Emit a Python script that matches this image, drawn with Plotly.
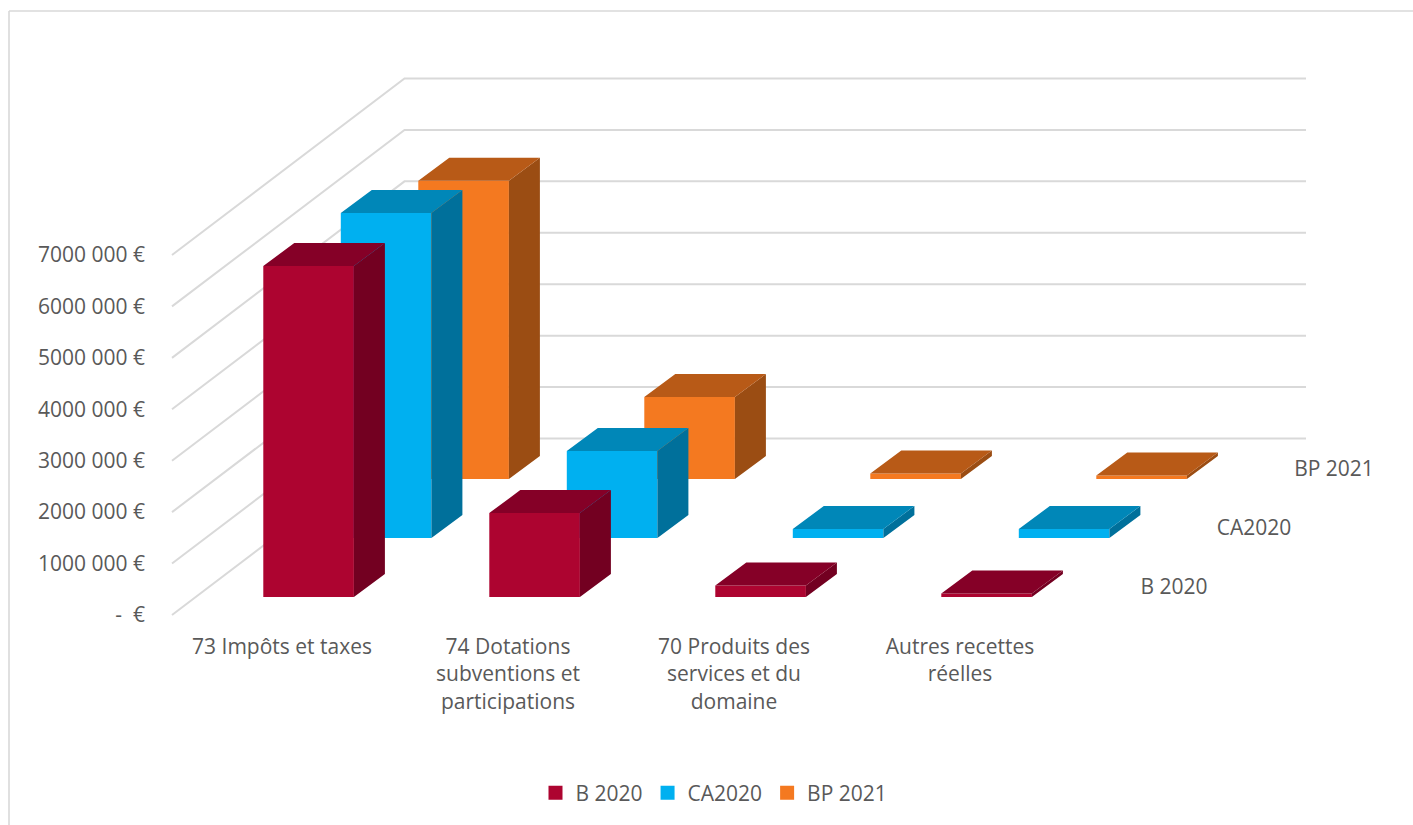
import plotly.graph_objects as go

# --- data -------------------------------------------------------------
categories = ["73 Impôts et taxes",
              "74 Dotations<br>subventions et<br>participations",
              "70 Produits des<br>services et du<br>domaine",
              "Autres recettes<br>réelles"]
series_names = ["B 2020", "CA2020", "BP 2021"]
b_2020 = [6436000, 1633000, 224000, 68000]
ca_2020 = [6320000, 1690000, 175000, 175000]
bp_2021 = [5800000, 1594000, 107000, 68000]
value_ticks = [0, 1000000, 2000000, 3000000, 4000000, 5000000, 6000000, 7000000]
value_tick_labels = ["-\u00a0\u00a0€", "1000 000 €", "2000 000 €", "3000 000 €",
                     "4000 000 €", "5000 000 €", "6000 000 €", "7000 000 €"]

# --- frame & projection ----------------------------------------------
W, H = 1413, 825
L, R, T, B = 150, 1400, 0, 625      # plot rectangle in the page
CAT_PX = 226.0                       # one category along the x axis
M_PX = 51.43                         # one million along the y axis
X0_PX = 282.0                        # x=0 (centre of first category label)
Y0_PX = 615.0                        # y=0 at the front-left of the walls
FS = 21


def ux(px):  # horizontal pixels -> x units
    return px / CAT_PX


def uy(px):  # vertical pixels -> value units
    return px / M_PX * 1e6


x_range = [ux(L - X0_PX), ux(R - X0_PX)]
y_range = [uy(Y0_PX - B), uy(Y0_PX - T)]

BAR_W = ux(90.6)
BAR_X0 = ux(263.3 - X0_PX)
BAR_Y0 = uy(Y0_PX - 597)
SER_DX, SER_DY = ux(77.5), uy(59)
DEP_DX, DEP_DY = ux(31), uy(23)
WALL_DX, WALL_DY = ux(232.5), uy(176.5)
WALL_X0, WALL_X1 = ux(172 - X0_PX), ux(1306 - X0_PX)

colors = {
    "B 2020": ("#AD0430", "#730021", "#850027"),
    "CA2020": ("#00B0F0", "#00709B", "#0087B8"),
    "BP 2021": ("#F47920", "#9B4D13", "#B85A17"),
}
values = {"B 2020": b_2020, "CA2020": ca_2020, "BP 2021": bp_2021}
TEXT = "#595959"
FONT = "Open Sans"

fig = go.Figure()

# --- legend entries ---------------------------------------------------
for name in series_names:
    fig.add_trace(go.Scatter(x=[None], y=[None], name=name, mode="markers",
                             marker=dict(symbol="square", size=14, color=colors[name][0])))

# --- walls ------------------------------------------------------------
gx, gy = [], []
for v in value_ticks:
    gx += [WALL_X0, WALL_X0 + WALL_DX, WALL_X1, None]
    gy += [v, v + WALL_DY, v + WALL_DY, None]
fig.add_trace(go.Scatter(x=gx, y=gy, mode="lines", showlegend=False, hoverinfo="skip",
                         line=dict(color="#D9D9D9", width=2)))


# --- bars, back row first ---------------------------------------------
def add_poly(xs, ys, color):
    fig.add_trace(go.Scatter(x=xs, y=ys, mode="lines", fill="toself", fillcolor=color,
                             line=dict(width=0, color=color), showlegend=False, hoverinfo="skip"))


for s in (2, 1, 0):
    name = series_names[s]
    front_c, side_c, top_c = colors[name]
    fx, fy, sx, sy, tx, ty = [], [], [], [], [], []
    for i, v in enumerate(values[name]):
        x0 = BAR_X0 + i + s * SER_DX
        x1 = x0 + BAR_W
        y0 = BAR_Y0 + s * SER_DY
        y1 = y0 + v
        fx += [x0, x1, x1, x0, x0, None]
        fy += [y0, y0, y1, y1, y0, None]
        sx += [x1, x1 + DEP_DX, x1 + DEP_DX, x1, x1, None]
        sy += [y0, y0 + DEP_DY, y1 + DEP_DY, y1, y0, None]
        tx += [x0, x1, x1 + DEP_DX, x0 + DEP_DX, x0, None]
        ty += [y1, y1, y1 + DEP_DY, y1 + DEP_DY, y1, None]
    add_poly(fx, fy, front_c)
    add_poly(sx, sy, side_c)
    add_poly(tx, ty, top_c)

# --- depth axis labels ------------------------------------------------
fig.add_trace(go.Scatter(
    x=[ux(1174 - X0_PX) + s * ux(80) for s in range(3)],
    y=[uy(Y0_PX - 589) + s * SER_DY for s in range(3)],
    text=series_names, mode="text", textposition="middle center",
    textfont=dict(family=FONT, size=FS, color=TEXT),
    showlegend=False, hoverinfo="skip"))


def px_x(p):
    return (p - L) / (R - L)


def px_y(p):
    return 1 - (p - T) / (B - T)


border = dict(type="line", xref="paper", yref="paper", line=dict(color="#D9D9D9", width=1.6))

fig.update_layout(
    width=W, height=H, autosize=False,
    margin=dict(l=L, r=W - R, t=T, b=H - B),
    paper_bgcolor="white", plot_bgcolor="white",
    font=dict(family=FONT, size=FS, color=TEXT),
    xaxis=dict(range=x_range, tickmode="array", tickvals=list(range(len(categories))),
               ticktext=categories, showgrid=False, zeroline=False, showline=False,
               ticks="", tickangle=0, tickfont=dict(family=FONT, size=FS, color=TEXT),
               ticklabelstandoff=7, fixedrange=True),
    yaxis=dict(range=y_range, tickmode="array", tickvals=value_ticks,
               ticktext=value_tick_labels, showgrid=False, zeroline=False, showline=False,
               ticks="", tickfont=dict(family=FONT, size=FS, color=TEXT),
               ticklabelstandoff=4, fixedrange=True),
    legend=dict(orientation="h", xanchor="center", yanchor="middle",
                x=px_x(714), y=px_y(793), font=dict(family=FONT, size=FS, color=TEXT),
                bgcolor="rgba(0,0,0,0)"),
    shapes=[
        dict(border, x0=px_x(9), x1=px_x(W), y0=px_y(11), y1=px_y(11)),
        dict(border, x0=px_x(9), x1=px_x(9), y0=px_y(11), y1=px_y(H)),
    ],
    showlegend=True,
)

fig.write_html("out.html", post_script="document.body.style.margin='0';",
               config={"displayModeBar": False})
